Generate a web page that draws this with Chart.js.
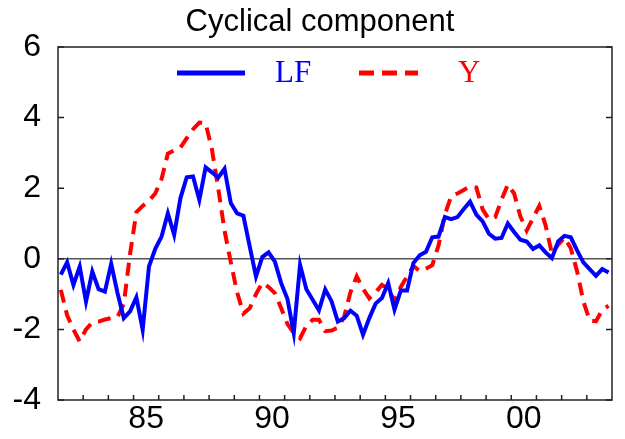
<!DOCTYPE html>
<html>
<head>
<meta charset="utf-8">
<script src="https://cdn.jsdelivr.net/npm/chart.js@4.4.1/dist/chart.umd.min.js"></script>
<style>
  html, body { margin: 0; padding: 0; background: #fff; }
  #wrap { width: 625px; height: 439px; }
</style>
</head>
<body>
<div id="wrap"><canvas id="cycle"></canvas></div>
<script>
// quarterly data, 1982Q1 .. 2003Q4
const startYear = 1982;
const endYear = 2004;

// labour force, cyclical component (%)
const lfValues = [
  -0.45, -0.1, -0.74, -0.22, -1.21, -0.36, -0.86, -0.93, -0.14, -0.97,
  -1.68, -1.49, -1.09, -2.01, -0.22, 0.28, 0.63, 1.29, 0.68, 1.72,
  2.31, 2.33, 1.67, 2.59, 2.45, 2.3, 2.55, 1.58, 1.29, 1.22,
  0.35, -0.5, 0.05, 0.18, -0.08, -0.69, -1.14, -2.1, -0.17, -0.86,
  -1.16, -1.46, -0.87, -1.2, -1.78, -1.68, -1.47, -1.61, -2.15, -1.68,
  -1.27, -1.11, -0.69, -1.44, -0.9, -0.9, -0.12, 0.1, 0.2, 0.61,
  0.63, 1.18, 1.12, 1.18, 1.41, 1.62, 1.25, 1.06, 0.71, 0.57,
  0.59, 1.0, 0.76, 0.54, 0.49, 0.28, 0.38, 0.18, 0.02, 0.49,
  0.65, 0.61, 0.24, -0.1, -0.29, -0.48, -0.29, -0.39
];

// output, cyclical component (%)
const yValues = [
  -0.88, -1.6, -2.0, -2.34, -2.0, -1.8, -1.78, -1.72, -1.68, -1.65,
  -1.28, 0.14, 1.32, 1.5, 1.65, 1.85, 2.26, 2.98, 3.07, 3.15,
  3.42, 3.67, 3.86, 3.84, 3.1, 2.0, 0.8, -0.1, -0.95, -1.55,
  -1.4, -1.0, -0.68, -0.8, -0.97, -1.4, -1.85, -2.1, -2.25, -1.9,
  -1.73, -1.73, -2.05, -2.03, -1.95, -1.65, -0.95, -0.5, -0.85, -1.12,
  -0.95, -0.74, -0.85, -1.2, -0.8, -0.5, -0.2, -0.35, -0.28, -0.18,
  0.38, 1.25, 1.78, 1.85, 1.95, 2.05, 2.02, 1.4, 1.12, 1.18,
  1.67, 2.1, 1.85, 1.2, 0.8, 1.15, 1.5, 0.95, 0.15, 0.4,
  0.6, 0.3, -0.35, -1.2, -1.75, -1.77, -1.45, -1.33
];

const yTicks = [-4, -2, 0, 2, 4, 6];
const xLabelYears = [1985, 1990, 1995, 2000];

const seriesNames = ['LF', 'Y'];
const seriesColors = ['#0000ff', '#ff0000'];

function toPoints(values) {
  return values.map((v, i) => ({ x: startYear + (i + 0.45) / 4, y: v }));
}

// frame, inward tick marks, title and in-plot legend
const decorPlugin = {
  id: 'decor',
  afterDraw(chart) {
    const ctx = chart.ctx;
    const a = chart.chartArea;
    const xs = chart.scales.x;
    const ys = chart.scales.y;
    ctx.save();
    ctx.strokeStyle = '#222';
    ctx.lineWidth = 1.5;
    ctx.strokeRect(a.left, a.top, a.right - a.left, a.bottom - a.top);

    ctx.beginPath();
    for (let yr = startYear + 1; yr < endYear; yr++) {
      const px = xs.getPixelForValue(yr);
      ctx.moveTo(px, a.bottom);
      ctx.lineTo(px, a.bottom - 5);
    }
    yTicks.forEach(t => {
      const py = ys.getPixelForValue(t);
      ctx.moveTo(a.left, py);
      ctx.lineTo(a.left + 6, py);
      ctx.moveTo(a.right, py);
      ctx.lineTo(a.right - 6, py);
    });
    ctx.stroke();

    // title
    ctx.fillStyle = '#000';
    ctx.font = '31px "Liberation Sans", Arial, sans-serif';
    ctx.textAlign = 'center';
    ctx.textBaseline = 'middle';
    ctx.fillText('Cyclical component', 320, 22);

    // legend
    const ly = 73;
    ctx.lineWidth = 5;
    ctx.strokeStyle = seriesColors[0];
    ctx.beginPath();
    ctx.moveTo(177, ly);
    ctx.lineTo(245, ly);
    ctx.stroke();
    ctx.strokeStyle = seriesColors[1];
    ctx.setLineDash([15, 8]);
    ctx.beginPath();
    ctx.moveTo(359, ly);
    ctx.lineTo(418, ly);
    ctx.stroke();
    ctx.setLineDash([]);
    ctx.font = '31px "Liberation Serif", "Times New Roman", serif';
    ctx.textAlign = 'left';
    ctx.fillStyle = seriesColors[0];
    ctx.fillText(seriesNames[0], 275, ly + 1);
    ctx.fillStyle = seriesColors[1];
    ctx.fillText(seriesNames[1], 458, ly + 1);
    ctx.restore();
  }
};

const ctx = document.getElementById('cycle').getContext('2d');
new Chart(ctx, {
  type: 'line',
  data: {
    datasets: [
      {
        label: seriesNames[0],
        data: toPoints(lfValues),
        borderColor: seriesColors[0],
        borderWidth: 4,
        pointRadius: 0,
        tension: 0
      },
      {
        label: seriesNames[1],
        data: toPoints(yValues),
        borderColor: seriesColors[1],
        borderWidth: 4,
        borderDash: [13, 8],
        pointRadius: 0,
        tension: 0
      }
    ]
  },
  options: {
    responsive: true,
    maintainAspectRatio: false,
    animation: false,
    layout: { padding: { top: 47, right: 13, left: 0, bottom: 0 } },
    plugins: {
      legend: { display: false },
      title: { display: false },
      tooltip: { enabled: false }
    },
    scales: {
      x: {
        type: 'linear',
        min: startYear,
        max: endYear,
        afterFit(scale) { scale.height = 39; },
        afterBuildTicks(scale) {
          const t = [];
          for (let yr = startYear; yr <= endYear; yr++) t.push({ value: yr });
          scale.ticks = t;
        },
        grid: { display: false, drawTicks: false },
        border: { display: false },
        ticks: {
          autoSkip: false,
          maxRotation: 0,
          padding: 0,
          labelOffset: 12.6,
          color: '#000',
          font: { family: '"Liberation Sans", Arial, sans-serif', size: 32 },
          callback: v => xLabelYears.includes(v) ? String(v % 100).padStart(2, '0') : ''
        }
      },
      y: {
        min: -4,
        max: 6,
        afterFit(scale) { scale.width = 58; },
        afterBuildTicks(scale) { scale.ticks = yTicks.map(v => ({ value: v })); },
        grid: {
          drawTicks: false,
          lineWidth: 1.5,
          color: c => c.tick && c.tick.value === 0 ? '#555' : 'rgba(0,0,0,0)'
        },
        border: { display: false },
        ticks: {
          padding: 17,
          color: '#000',
          font: { family: '"Liberation Sans", Arial, sans-serif', size: 32 }
        }
      }
    }
  },
  plugins: [decorPlugin]
});
</script>
</body>
</html>
